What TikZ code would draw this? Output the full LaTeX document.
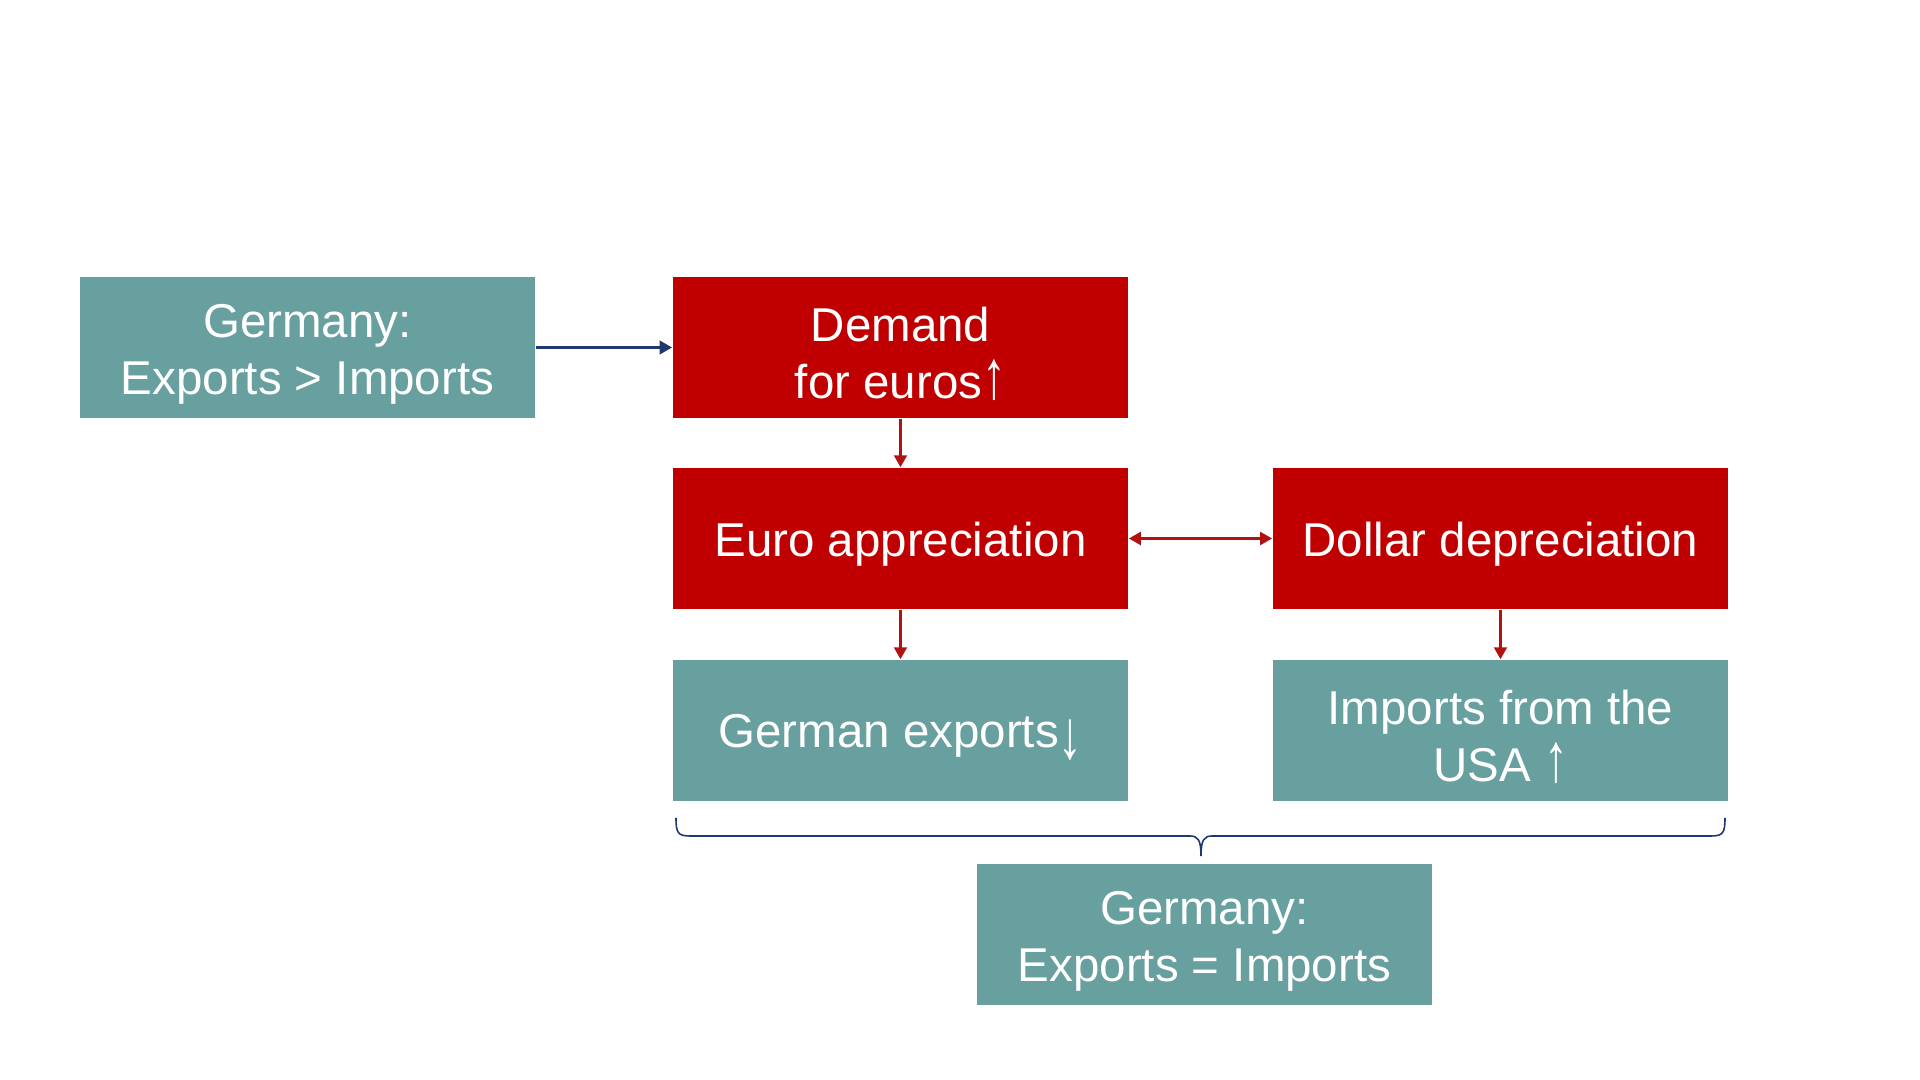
\documentclass[tikz,border=0pt]{standalone}
\usepackage{fontspec}
\usepackage{graphicx}
\setmainfont{Liberation Sans}
\usetikzlibrary{arrows.meta}
\definecolor{tealbox}{RGB}{104,160,159}
\definecolor{redbox}{RGB}{192,0,0}
\definecolor{redarrow}{RGB}{176,18,18}
\definecolor{navy}{RGB}{31,56,110}
\newcommand\uparr{\scalebox{1}[1.45]{↑}}
\newcommand\downarr{\raisebox{-0.45ex}{\scalebox{1}[1.45]{↓}}}
\newcommand\st{\rule{0pt}{13.2pt}}
\tikzset{
  box/.style={minimum width=4.55cm, minimum height=1.41cm, inner sep=0pt,
    align=center, text=white, font=\fontsize{13.5pt}{16.3pt}\selectfont},
  tealnode/.style={box, fill=tealbox},
  rednode/.style={box, fill=redbox},
  bluearrow/.style={draw=navy, line width=1.1pt, -{Triangle[length=3.6pt,width=3.8pt]}},
  redarr/.style={draw=redarrow, line width=1pt, -{Triangle[length=3.4pt,width=3.6pt]}},
  redboth/.style={draw=redarrow, line width=1pt, {Triangle[length=3.4pt,width=3.6pt]}-{Triangle[length=3.4pt,width=3.6pt]}},
  bracestyle/.style={draw=navy, line width=0.45pt}
}
\begin{document}
\begin{tikzpicture}[x=0.01cm, y=-0.01cm]
\useasboundingbox (0,0) rectangle (1920,1080);
\node[tealnode] (ger) at (307.5,347.5) {\st Germany:\\Exports > Imports};
\node[rednode] (dem) at (900.5,347.5) {\st Demand\\for euros\uparr};
\node[rednode] (eur) at (900.5,538.5) {\st Euro appreciation};
\node[rednode] (dol) at (1500.5,538.5) {\st Dollar depreciation};
\node[tealnode] (gex) at (900.5,730.5) {\st German exports\downarr};
\node[tealnode] (imp) at (1500.5,730.5) {\st Imports from the\\USA \uparr};
\node[tealnode] (bot) at (1204.5,934.5) {\st Germany:\\Exports = Imports};

\draw[bluearrow] (ger.east) -- (dem.west);
\draw[redarr] (dem.south) -- (eur.north);
\draw[redboth] (eur.east) -- (dol.west);
\draw[redarr] (eur.south) -- (gex.north);
\draw[redarr] (dol.south) -- (imp.north);

\coordinate (bl) at (676,818);
\coordinate (br) at (1725,818);
\coordinate (bt) at (1201,856);
\draw[bracestyle] (bl) .. controls (676,833) and (678,836) .. (690,836)
  -- (1190,836) .. controls (1198,836) and (1201,840) .. (bt)
  .. controls (1201,840) and (1204,836) .. (1212,836)
  -- (1711,836) .. controls (1723,836) and (1725,833) .. (br);
\end{tikzpicture}
\end{document}
